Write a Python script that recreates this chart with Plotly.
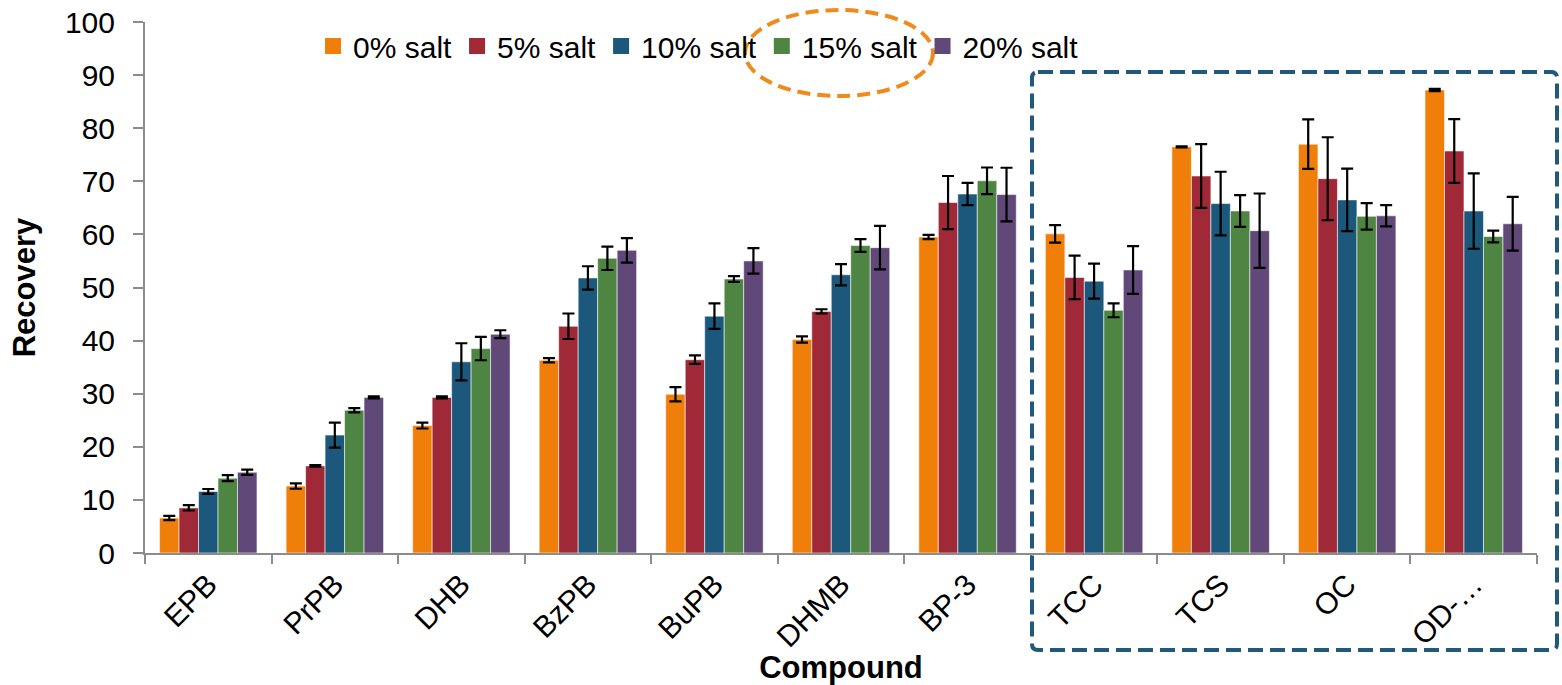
import plotly.graph_objects as go

compounds = ["EPB", "PrPB", "DHB", "BzPB", "BuPB", "DHMB", "BP-3", "TCC", "TCS", "OC", "OD-…"]
series_names = ["0% salt", "5% salt", "10% salt", "15% salt", "20% salt"]
colors = ["#F07F09", "#9F2936", "#1B587C", "#4E8542", "#604878"]

salt_0 = [6.6, 12.6, 24.0, 36.3, 29.9, 40.2, 59.5, 60.1, 76.5, 77.0, 87.2]
salt_5 = [8.5, 16.4, 29.3, 42.7, 36.4, 45.5, 66.0, 51.9, 71.0, 70.5, 75.7]
salt_10 = [11.6, 22.2, 36.0, 51.8, 44.6, 52.4, 67.6, 51.2, 65.8, 66.5, 64.4]
salt_15 = [14.1, 26.9, 38.5, 55.5, 51.6, 57.9, 70.1, 45.7, 64.4, 63.4, 59.6]
salt_20 = [15.2, 29.3, 41.2, 57.0, 55.0, 57.5, 67.5, 53.3, 60.7, 63.5, 62.0]

err_0 = [0.4, 0.5, 0.55, 0.4, 1.35, 0.6, 0.4, 1.65, 0.1, 4.65, 0.2]
err_5 = [0.5, 0.15, 0.2, 2.4, 0.8, 0.4, 5.0, 4.1, 6.0, 7.8, 6.0]
err_10 = [0.45, 2.35, 3.5, 2.2, 2.4, 2.0, 2.1, 3.3, 6.0, 5.9, 7.1]
err_15 = [0.55, 0.4, 2.2, 2.2, 0.55, 1.2, 2.5, 1.3, 3.0, 2.5, 1.1]
err_20 = [0.5, 0.2, 0.75, 2.3, 2.4, 4.1, 5.05, 4.5, 7.0, 2.0, 5.05]

values = [salt_0, salt_5, salt_10, salt_15, salt_20]
errors = [err_0, err_5, err_10, err_15, err_20]

y_ticks = list(range(0, 101, 10))

FONT = "Liberation Sans, Arial, sans-serif"
AXIS_GREY = "#8C8C8C"

fig = go.Figure()
for name, vals, errs, col in zip(series_names, values, errors, colors):
    fig.add_trace(go.Bar(
        name=name,
        x=compounds,
        y=vals,
        showlegend=False,
        marker=dict(color=col, line=dict(color="rgba(255,255,255,0.55)", width=1)),
        error_y=dict(type="data", array=errs, visible=True,
                     color="black", thickness=2.2, width=6),
    ))

# legend entries with larger square swatches (no visible points)
for name, col in zip(series_names, colors):
    fig.add_trace(go.Scatter(
        name=name, x=[compounds[0]], y=[None], mode="markers",
        marker=dict(symbol="square", size=16, color=col),
        showlegend=True, hoverinfo="skip",
    ))

# plot-area geometry in pixels (used to place the highlight shapes)
W, H = 1562, 685
ML, MR, MT, MB = 145, 25, 22, 132
PW, PH = W - ML - MR, H - MT - MB


def px_x(p):
    return (p - ML) / PW


def px_y(p):
    return (H - MB - p) / PH


# rounded dashed frame around the last four compounds
bx0, bx1, by0, by1, rad = 1032, 1557, 72, 650, 6
path = (
    f"M {px_x(bx0 + rad)} {px_y(by0)} L {px_x(bx1 - rad)} {px_y(by0)} "
    f"Q {px_x(bx1)} {px_y(by0)} {px_x(bx1)} {px_y(by0 + rad)} "
    f"L {px_x(bx1)} {px_y(by1 - rad)} "
    f"Q {px_x(bx1)} {px_y(by1)} {px_x(bx1 - rad)} {px_y(by1)} "
    f"L {px_x(bx0 + rad)} {px_y(by1)} "
    f"Q {px_x(bx0)} {px_y(by1)} {px_x(bx0)} {px_y(by1 - rad)} "
    f"L {px_x(bx0)} {px_y(by0 + rad)} "
    f"Q {px_x(bx0)} {px_y(by0)} {px_x(bx0 + rad)} {px_y(by0)} Z"
)

shapes = [
    dict(type="path", path=path, xref="paper", yref="paper",
         line=dict(color="#1F5A7C", width=4, dash="15px,7px"), layer="above"),
    dict(type="circle", xref="paper", yref="paper",
         x0=px_x(745), x1=px_x(933), y0=px_y(96), y1=px_y(10),
         line=dict(color="#F08A1C", width=4, dash="13px,7px"), layer="above"),
]

fig.update_layout(
    width=W, height=H,
    margin=dict(l=ML, r=MR, t=MT, b=MB, autoexpand=False),
    paper_bgcolor="white", plot_bgcolor="white",
    barmode="group", bargap=0.23, bargroupgap=0,
    font=dict(family=FONT, size=30, color="black"),
    showlegend=True,
    legend=dict(orientation="h", x=px_x(313), y=px_y(46), xanchor="left", yanchor="middle",
                font=dict(family=FONT, size=30), bgcolor="rgba(0,0,0,0)",
                itemwidth=30, tracegroupgap=0, traceorder="normal"),
    shapes=shapes,
    xaxis=dict(
        type="category", range=[-0.5, len(compounds) - 0.5],
        showline=True, linecolor=AXIS_GREY, linewidth=2,
        ticks="outside", tickson="boundaries", ticklen=9, tickcolor=AXIS_GREY, tickwidth=2,
        tickangle=-45, tickfont=dict(family=FONT, size=30), automargin=False,
        title=dict(text="<b>Compound</b>", font=dict(family=FONT, size=31), standoff=0),
        showgrid=False, zeroline=False,
    ),
    yaxis=dict(
        range=[0, 100], tickvals=y_ticks, showline=True, linecolor=AXIS_GREY, linewidth=2,
        ticks="outside", ticklen=10, tickcolor=AXIS_GREY, tickwidth=2,
        ticklabelstandoff=12, automargin=False,
        tickfont=dict(family=FONT, size=30),
        title=dict(text="<b>Recovery</b>", font=dict(family=FONT, size=31), standoff=20),
        showgrid=False, zeroline=False,
    ),
)

fig.write_html("out.html")
